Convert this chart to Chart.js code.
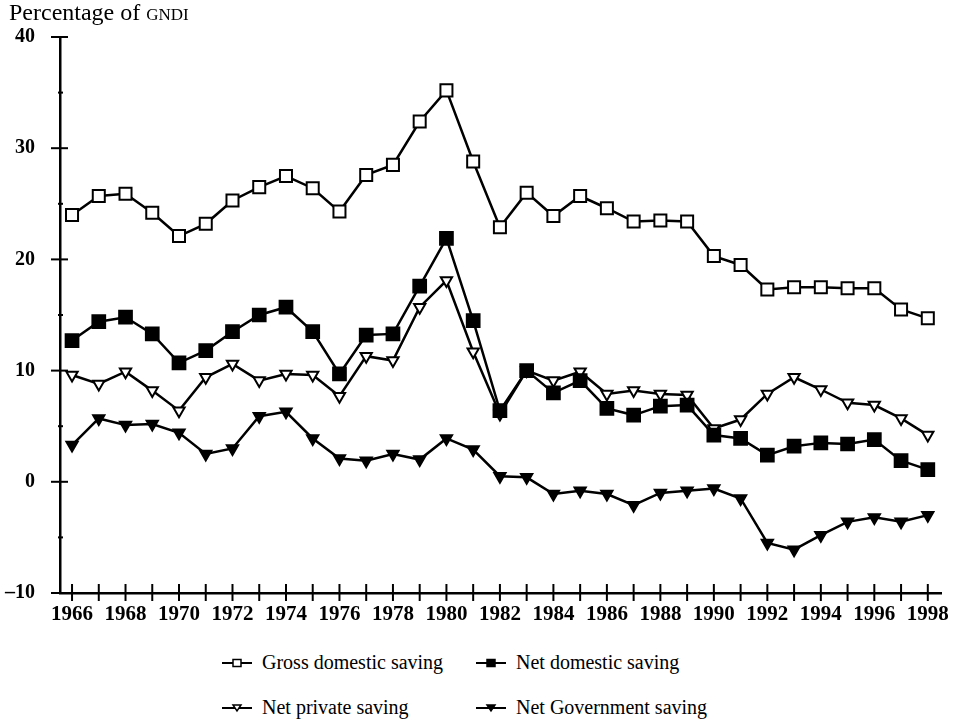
<!DOCTYPE html>
<html>
<head>
<meta charset="utf-8">
<script src="https://cdn.jsdelivr.net/npm/chart.js@4/dist/chart.umd.min.js"></script>
<style>
  body { margin: 0; background: #fff; overflow: hidden; }
  #wrap { position: relative; width: 958px; height: 722px; font-family: "Liberation Serif", "DejaVu Serif", serif; color: #000; }
  #titulo { position: absolute; left: 9px; top: -1px; font-size: 24px; }
  #titulo span { font-variant: small-caps; }
  #caja { position: absolute; left: 0; top: 0; width: 958px; height: 630px; }
  #leyenda { position: absolute; left: 222px; top: 640px; font-size: 20px; }
  .fila { display: flex; height: 45px; align-items: center; }
  .item { display: flex; align-items: center; }
  .item:first-child { width: 254px; }
  .item svg { margin-right: 10px; }
</style>
</head>
<body>
<div id="wrap">
  <div id="caja"><canvas id="myChart01"></canvas></div>
  <div id="titulo">Percentage of <span>gndi</span></div>
  <div id="leyenda"></div>
</div>
<script>
var anios = [1966,1967,1968,1969,1970,1971,1972,1973,1974,1975,1976,1977,1978,1979,1980,1981,
             1982,1983,1984,1985,1986,1987,1988,1989,1990,1991,1992,1993,1994,1995,1996,1997,1998];

var ahorroBrutoDom = [24.0,25.7,25.9,24.2,22.1,23.2,25.3,26.5,27.5,26.4,24.3,27.6,28.5,32.4,35.2,28.8,
                      22.9,26.0,23.9,25.7,24.6,23.4,23.5,23.4,20.3,19.5,17.3,17.5,17.5,17.4,17.4,15.5,14.7];
var ahorroNetoDom = [12.7,14.4,14.8,13.3,10.7,11.8,13.5,15.0,15.7,13.5,9.7,13.2,13.3,17.6,21.9,14.5,
                     6.4,10.0,8.0,9.1,6.6,6.0,6.8,6.9,4.2,3.9,2.4,3.2,3.5,3.4,3.8,1.9,1.1];
var ahorroPrivado = [9.6,8.8,9.9,8.2,6.4,9.4,10.6,9.1,9.7,9.6,7.7,11.3,10.9,15.7,18.1,11.7,
                     6.1,10.0,9.1,9.9,7.9,8.2,7.9,7.8,4.8,5.6,7.9,9.4,8.3,7.1,6.9,5.7,4.2];
var ahorroGobierno = [3.3,5.7,5.1,5.2,4.4,2.5,3.0,5.9,6.3,3.9,2.1,1.9,2.5,2.0,3.9,2.9,
                      0.5,0.4,-1.1,-0.8,-1.1,-2.1,-1.0,-0.8,-0.6,-1.5,-5.5,-6.1,-4.8,-3.6,-3.2,-3.6,-3.0];

var ticksY = [-10,-5,0,5,10,15,20,25,30,35,40];

var series = [
    { label: 'Gross domestic saving', data: ahorroBrutoDom, forma: 'rect', relleno: '#fff', radio: 8.5, rot: 0 },
    { label: 'Net domestic saving', data: ahorroNetoDom, forma: 'rect', relleno: '#000', radio: 9, rot: 0 },
    { label: 'Net private saving', data: ahorroPrivado, forma: 'triangle', relleno: '#fff', radio: 6.5, rot: 180 },
    { label: 'Net Government saving', data: ahorroGobierno, forma: 'triangle', relleno: '#000', radio: 6.5, rot: 180 }
];

// marcas de los ejes que cruzan la linea (como en el original)
var marcasEjes = {
    id: 'marcasEjes',
    afterDraw: function (chart) {
        var ctx = chart.ctx;
        var x = chart.scales.x, y = chart.scales.y;
        ctx.save();
        ctx.strokeStyle = '#000';
        ctx.lineWidth = 2;
        ticksY.forEach(function (v) {
            var py = y.getPixelForValue(v);
            var mayor = v % 10 === 0;
            ctx.beginPath();
            ctx.moveTo(x.left - (mayor ? 9 : 2), py);
            ctx.lineTo(x.left + (mayor ? 8 : 3), py);
            ctx.stroke();
        });
        anios.forEach(function (a) {
            var px = x.getPixelForValue(a);
            ctx.beginPath();
            ctx.moveTo(px, y.bottom - 9);
            ctx.lineTo(px, y.bottom + 8);
            ctx.stroke();
        });
        ctx.restore();
    }
};

var ctx = document.getElementById('myChart01');

var myChart1 = new Chart(ctx, {
    type: 'line',
    data: {
        labels: anios,
        datasets: series.map(function (s) {
            return {
                label: s.label,
                data: s.data,
                borderColor: '#000',
                borderWidth: 2.5,
                backgroundColor: s.relleno,
                pointStyle: s.forma,
                pointRadius: s.radio,
                pointRotation: s.rot,
                pointBorderWidth: 2,
                pointBorderColor: '#000',
                pointBackgroundColor: s.relleno,
                fill: false,
                tension: 0
            };
        })
    },
    options: {
        responsive: true,
        maintainAspectRatio: false,
        animation: false,
        layout: { padding: { top: 36, right: 13, left: 0, bottom: 0 } },
        plugins: {
            legend: { display: false },
            title: { display: false },
            tooltip: { enabled: false }
        },
        scales: {
            x: {
                type: 'linear',
                min: 1965.55,
                max: 1998.5,
                afterBuildTicks: function (scale) {
                    scale.ticks = anios.map(function (a) { return { value: a }; });
                },
                afterFit: function (scale) { scale.height = 37; },
                grid: { display: true, drawOnChartArea: false, drawTicks: false },
                border: { color: '#000', width: 2.5 },
                ticks: {
                    autoSkip: false,
                    maxRotation: 0,
                    padding: 9,
                    color: '#000',
                    font: { family: 'Liberation Serif', size: 21, weight: 'bold' },
                    callback: function (v) { return v % 2 === 0 ? String(v) : ''; }
                }
            },
            y: {
                min: -10,
                max: 40,
                afterBuildTicks: function (scale) {
                    scale.ticks = [-10, 0, 10, 20, 30, 40].map(function (v) { return { value: v }; });
                },
                afterFit: function (scale) { scale.width = 60; },
                grid: { display: true, drawOnChartArea: false, drawTicks: false },
                border: { color: '#000', width: 2.5 },
                ticks: {
                    padding: 25,
                    color: '#000',
                    font: { family: 'Liberation Serif', size: 20, weight: 'bold' },
                    callback: function (v) { return v < 0 ? '\u2013' + Math.abs(v) : String(v); }
                }
            }
        }
    },
    plugins: [marcasEjes]
});

// leyenda en html, 2 columnas
function icono(s) {
    var m;
    if (s.forma === 'rect') {
        m = '<rect x="11" y="3.5" width="8" height="7" fill="' + s.relleno + '" stroke="#000" stroke-width="1.5"/>';
    } else {
        m = '<polygon points="11,4 19,4 15,10" fill="' + s.relleno + '" stroke="#000" stroke-width="1.5"/>';
    }
    return '<svg width="30" height="14"><line x1="0" y1="7" x2="30" y2="7" stroke="#000" stroke-width="2"/>' + m + '</svg>';
}
var orden = [[0, 1], [2, 3]];
document.getElementById('leyenda').innerHTML = orden.map(function (f) {
    return '<div class="fila">' + f.map(function (i) {
        return '<div class="item">' + icono(series[i]) + '<span>' + series[i].label + '</span></div>';
    }).join('') + '</div>';
}).join('');
</script>
</body>
</html>
